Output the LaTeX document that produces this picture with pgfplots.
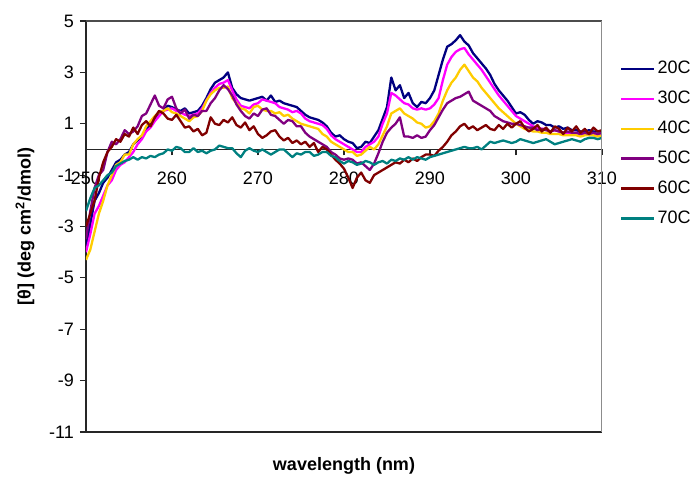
\documentclass[border=0pt]{standalone}
\usepackage{pgfplots}
\pgfplotsset{compat=1.18}
\usepackage{pgfplotstable}
\usepackage{fontspec}
\setmainfont{Liberation Sans}

\definecolor{c20}{RGB}{0,0,128}
\definecolor{c30}{RGB}{255,0,255}
\definecolor{c40}{RGB}{255,204,0}
\definecolor{c50}{RGB}{128,0,128}
\definecolor{c60}{RGB}{128,0,0}
\definecolor{c70}{RGB}{0,128,128}

% CD spectra, columns a..f = 20C..70C
\pgfplotstableread{
x a b c d e f
250.0 -3.80 -4.00 -4.30 -3.50 -3.00 -2.40
250.5 -2.90 -3.30 -3.90 -2.40 -2.50 -1.90
251.0 -2.00 -2.50 -3.20 -1.50 -2.00 -1.50
251.5 -1.70 -2.20 -2.50 -1.00 -1.10 -1.40
252.0 -1.30 -1.80 -2.00 -0.80 -0.50 -1.20
252.5 -1.10 -1.40 -1.40 -0.10 -0.10 -1.00
253.0 -0.80 -1.20 -1.00 0.30 0.10 -0.90
253.5 -0.50 -0.80 -0.60 0.20 0.40 -0.65
254.0 -0.40 -0.60 -0.50 0.40 0.30 -0.55
254.5 -0.20 -0.50 -0.20 0.75 0.60 -0.45
255.0 -0.10 -0.30 -0.20 0.60 0.50 -0.40
255.5 0.20 -0.10 0.20 0.70 0.85 -0.30
256.0 0.35 0.20 0.40 0.90 0.60 -0.40
256.5 0.50 0.40 0.55 1.30 0.95 -0.30
257.0 0.75 0.70 0.90 1.40 1.10 -0.35
257.5 1.00 0.85 1.10 1.75 0.90 -0.25
258.0 1.15 1.10 1.30 2.10 1.25 -0.30
258.5 1.40 1.30 1.45 1.70 1.50 -0.20
259.0 1.50 1.50 1.50 1.60 1.40 -0.15
259.5 1.70 1.55 1.60 1.95 1.20 0.00
260.0 1.65 1.60 1.45 2.05 1.15 -0.05
260.5 1.55 1.50 1.40 1.60 1.35 0.10
261.0 1.50 1.45 1.30 1.40 1.10 0.05
261.5 1.60 1.35 1.20 1.55 0.85 -0.10
262.0 1.40 1.30 1.10 1.20 0.90 -0.10
262.5 1.45 1.35 1.25 1.35 0.70 0.05
263.0 1.50 1.40 1.30 1.30 0.80 -0.10
263.5 1.70 1.60 1.50 1.50 0.55 -0.05
264.0 2.00 1.90 1.90 1.50 0.65 -0.15
264.5 2.35 2.20 2.15 1.80 1.25 -0.05
265.0 2.60 2.40 2.30 2.00 1.00 0.00
265.5 2.70 2.55 2.40 2.30 0.95 0.15
266.0 2.80 2.60 2.40 2.50 1.15 0.10
266.5 3.00 2.70 2.45 2.35 1.05 0.05
267.0 2.40 2.30 2.00 2.10 1.25 0.05
267.5 2.15 1.95 1.80 1.75 0.95 -0.15
268.0 2.00 1.70 1.60 1.50 0.85 -0.30
268.5 1.95 1.65 1.55 1.30 1.05 -0.05
269.0 1.90 1.60 1.40 1.20 0.75 0.05
269.5 1.95 1.75 1.65 1.40 0.90 -0.05
270.0 2.00 1.80 1.70 1.30 0.60 -0.10
270.5 2.05 1.95 1.55 1.55 0.45 0.00
271.0 1.90 1.90 1.50 1.60 0.55 -0.10
271.5 2.10 1.85 1.50 1.35 0.70 -0.20
272.0 1.85 1.80 1.40 1.30 0.75 -0.10
272.5 1.90 1.65 1.45 1.15 0.50 0.00
273.0 1.80 1.60 1.30 1.00 0.35 0.00
273.5 1.75 1.55 1.35 1.15 0.45 -0.15
274.0 1.70 1.45 1.20 1.10 0.25 -0.30
274.5 1.65 1.50 1.10 0.90 0.35 -0.15
275.0 1.50 1.40 1.00 0.90 0.20 -0.20
275.5 1.35 1.20 0.95 0.65 0.30 -0.10
276.0 1.25 1.10 0.90 0.50 0.10 -0.10
276.5 1.20 1.05 0.85 0.40 0.25 -0.25
277.0 1.15 1.00 0.80 0.30 -0.10 -0.20
277.5 1.05 0.95 0.60 0.20 0.10 -0.10
278.0 0.90 0.80 0.50 0.10 0.00 -0.10
278.5 0.65 0.55 0.30 -0.10 -0.20 -0.25
279.0 0.50 0.40 0.20 -0.20 -0.40 -0.30
279.5 0.55 0.30 0.10 -0.35 -0.55 -0.45
280.0 0.40 0.20 0.00 -0.40 -0.75 -0.55
280.5 0.30 0.10 -0.10 -0.35 -1.10 -0.45
281.0 0.25 0.00 -0.10 -0.40 -1.50 -0.50
281.5 0.05 -0.10 -0.25 -0.55 -1.10 -0.60
282.0 0.10 -0.10 -0.20 -0.50 -0.90 -0.55
282.5 0.30 0.10 -0.05 -0.65 -1.20 -0.45
283.0 0.25 0.20 0.10 -0.80 -1.30 -0.50
283.5 0.50 0.30 0.00 -0.55 -1.00 -0.60
284.0 0.75 0.50 0.20 -0.15 -0.90 -0.50
284.5 1.20 1.00 0.55 0.30 -0.80 -0.45
285.0 1.65 1.40 0.90 0.65 -0.70 -0.55
285.5 2.80 2.20 1.40 0.85 -0.60 -0.40
286.0 2.30 2.10 1.50 1.00 -0.50 -0.45
286.5 2.50 1.95 1.60 1.25 -0.55 -0.35
287.0 2.00 1.80 1.40 0.50 -0.40 -0.40
287.5 2.20 1.75 1.30 0.50 -0.50 -0.30
288.0 1.80 1.60 1.20 0.45 -0.35 -0.40
288.5 1.65 1.55 1.05 0.55 -0.45 -0.30
289.0 1.85 1.60 1.00 0.45 -0.30 -0.35
289.5 1.80 1.55 0.85 0.50 -0.20 -0.40
290.0 2.00 1.60 0.90 0.75 -0.20 -0.30
290.5 2.30 1.75 1.10 0.95 -0.25 -0.25
291.0 2.90 2.00 1.40 1.25 -0.05 -0.20
291.5 3.50 2.70 1.90 1.55 0.10 -0.15
292.0 4.00 3.30 2.30 1.80 0.30 -0.10
292.5 4.10 3.60 2.60 1.90 0.55 -0.05
293.0 4.25 3.80 2.80 2.00 0.70 0.00
293.5 4.45 3.90 3.10 2.05 0.90 0.05
294.0 4.20 3.95 3.30 2.15 1.00 0.10
294.5 4.05 3.70 3.05 2.25 0.80 0.05
295.0 3.75 3.50 2.80 1.90 0.90 0.05
295.5 3.55 3.30 2.65 1.80 0.75 0.10
296.0 3.35 3.10 2.40 1.70 0.85 0.00
296.5 3.15 2.85 2.20 1.60 0.95 0.15
297.0 2.90 2.60 2.00 1.50 0.80 0.30
297.5 2.55 2.35 1.80 1.30 0.75 0.25
298.0 2.30 2.10 1.60 1.20 0.95 0.30
298.5 2.10 1.90 1.45 1.10 0.80 0.35
299.0 1.90 1.70 1.30 1.05 1.00 0.30
299.5 1.65 1.50 1.15 1.00 0.85 0.25
300.0 1.40 1.30 1.00 1.00 1.00 0.30
300.5 1.45 1.20 0.90 0.95 1.10 0.40
301.0 1.35 1.10 0.80 0.90 0.85 0.35
301.5 1.15 1.00 0.75 0.85 0.70 0.30
302.0 1.00 0.90 0.70 0.85 0.80 0.25
302.5 1.10 0.85 0.70 0.75 0.95 0.30
303.0 1.05 0.80 0.65 0.80 0.70 0.35
303.5 0.95 0.80 0.65 0.75 0.85 0.40
304.0 0.95 0.70 0.60 0.70 0.65 0.30
304.5 0.85 0.75 0.60 0.75 0.90 0.20
305.0 0.90 0.70 0.60 0.70 0.80 0.25
305.5 0.80 0.65 0.55 0.65 0.60 0.30
306.0 0.85 0.65 0.55 0.70 0.85 0.35
306.5 0.75 0.60 0.55 0.65 0.70 0.40
307.0 0.75 0.65 0.55 0.65 0.90 0.35
307.5 0.70 0.60 0.50 0.60 0.65 0.30
308.0 0.70 0.60 0.55 0.65 0.80 0.40
308.5 0.75 0.60 0.55 0.60 0.60 0.45
309.0 0.70 0.60 0.55 0.65 0.85 0.45
309.5 0.70 0.55 0.50 0.60 0.70 0.40
310.0 0.70 0.60 0.55 0.65 0.75 0.45
}\cddata

\begin{document}
\fontsize{18}{21}\selectfont
\begin{tikzpicture}
\begin{axis}[
    at={(0,0)}, anchor=south west,
    scale only axis,
    width=516pt, height=411pt,
    xmin=250, xmax=310,
    ymin=-11, ymax=5,
    axis x line=middle,
    axis y line=left,
    hide obscured x ticks=false,
    hide obscured y ticks=false,
    axis line style={-, line width=1.2pt, black!85},
    xtick={250,260,...,310},
    xticklabels={250,260,270,280,290,300,310},
    ytick={-11,-9,...,5},
    yticklabels={-11,-9,-7,-5,-3,-1,1,3,5},
    tick align=outside,
    major tick length=6pt,
    tick style={line width=1.2pt, black!85},
    xticklabel shift=10pt,
    yticklabel shift=0pt,
    tick label style={font=\fontsize{18}{21}\selectfont},
    every axis x label/.style={at={(axis description cs:0.5,-0.083)}, anchor=center},
    every axis y label/.style={at={(axis description cs:-0.118,0.5)}, anchor=center, rotate=90},
    xlabel={\bfseries wavelength (nm)},
    ylabel={\bfseries [θ] (deg cm\textsuperscript{2}/dmol)},
    label style={font=\fontsize{18}{21}\selectfont},
    legend style={at={(axis description cs:1.035,0.907)}, anchor=north west,
        draw=none, fill=none, inner sep=0pt, row sep=10.6pt,
        font=\fontsize{18}{21}\selectfont,
        nodes={inner sep=2pt, anchor=west}},
    legend cell align=left,
    legend image code/.code={\draw[#1, line width=2.4pt] (0pt,0pt) -- (33pt,0pt);},
    every axis plot/.append style={line width=2.3pt, line join=round},
    clip=true,
]
\addplot[c20] table[x=x, y=a] {\cddata};
\addlegendentry{20C}
\addplot[c30] table[x=x, y=b] {\cddata};
\addlegendentry{30C}
\addplot[c40] table[x=x, y=c] {\cddata};
\addlegendentry{40C}
\addplot[c50] table[x=x, y=d] {\cddata};
\addlegendentry{50C}
\addplot[c60] table[x=x, y=e] {\cddata};
\addlegendentry{60C}
\addplot[c70] table[x=x, y=f] {\cddata};
\addlegendentry{70C}
\draw[line width=1.2pt, black!85] (rel axis cs:0,0) -- (rel axis cs:1,0);
\draw[line width=1.2pt, black!70] (rel axis cs:0,1) -- (rel axis cs:1,1);
\draw[line width=1.6pt, black!45] (rel axis cs:1,0) -- (rel axis cs:1,1);
\end{axis}
\pgfresetboundingbox
\path[use as bounding box] (-86pt,-45pt) rectangle (609pt,432pt);
\end{tikzpicture}
\end{document}
